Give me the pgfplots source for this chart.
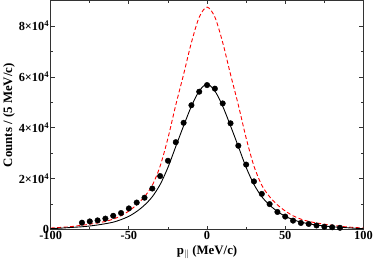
\documentclass[border=0pt]{standalone}
\usepackage{pgfplots}
\pgfplotsset{compat=1.18}
\usepackage{fontspec}
\setmainfont{Liberation Serif}
\begin{document}
\begin{tikzpicture}[x=1bp,y=1bp]
\begin{axis}[
  scale only axis,
  width=315bp, height=231bp,
  xmin=-100, xmax=100, ymin=0, ymax=90000,
  xtick={-100,-50,0,50,100},
  xticklabels={-100,-50,0,50,100},
  minor xtick={-75,-25,25,75},
  ytick={0,20000,40000,60000,80000},
  yticklabels={0,2×10\textsuperscript{4},4×10\textsuperscript{4},6×10\textsuperscript{4},8×10\textsuperscript{4}},
  minor ytick={10000,30000,50000,70000},
  scaled y ticks=false,
  tick align=inside,
  major tick length=4bp, minor tick length=2.5bp,
  tick style={line width=0.8pt, black!80},
  axis line style={line width=1pt, black!80},
  ticklabel style={font=\fontsize{12.5}{13}\selectfont\bfseries},
  xticklabel style={yshift=2bp},
  yticklabel style={xshift=2bp},
  xlabel={\textbf{p}$_{\|}$ \textbf{(MeV/c)}},
  ylabel={\textbf{Counts / (5 MeV/c)}},
  label style={font=\fontsize{13}{14}\selectfont\bfseries},
  xlabel style={yshift=1bp},
  ylabel style={yshift=-3bp},
  clip=true,
]
\addplot[red, dashed, line width=0.9pt, dash pattern=on 4bp off 2.5bp, smooth, tension=0.5] coordinates {
(-100,700)(-95,900)(-90,1100)(-85,1400)(-80,1800)(-75,2200)(-70,2700)(-65,3300)(-60,4200)(-55,5500)(-50,7400)(-45,9800)(-40,13000)(-35,17500)(-30,25000)(-25,36000)(-20,49000)(-15,61000)(-10,73500)(-5,83500)(0,87400)
(5,83500)(10,73500)(15,61000)(20,49000)(25,36000)(30,25000)(35,17500)(40,13000)(45,9800)(50,7400)(55,5500)(60,4200)(65,3300)(70,2700)(75,2200)(80,1800)(85,1400)(90,1100)(95,900)(100,700)
};
\addplot[black, line width=0.9pt, smooth, tension=0.5] coordinates {
(-100,500)(-95,600)(-90,800)(-85,1000)(-80,1200)(-75,1500)(-70,1900)(-65,2400)(-60,3000)(-55,4000)(-50,5300)(-45,7200)(-40,9700)(-35,13000)(-30,17800)(-25,24500)(-20,32700)(-15,40800)(-10,48500)(-5,54500)(0,57200)
(5,54500)(10,48500)(15,40800)(20,32700)(25,24500)(30,17800)(35,13000)(40,9700)(45,7200)(50,5300)(55,4000)(60,3000)(65,2400)(70,1900)(75,1500)(80,1200)(85,1000)(90,800)(95,600)(100,500)
};
\addplot[only marks, mark=*, mark size=2.8bp, black] coordinates {
(-80,2800)(-75,3300)(-70,3700)(-65,4400)(-60,5500)(-55,6600)(-50,8400)(-45,10700)(-40,12600)(-35,16200)(-30,21100)(-25,27100)(-20,34400)(-15,42000)(-10,48900)(-5,54200)(0,56800)(5,55400)(10,49600)(15,41800)(20,33000)(25,25600)(30,19000)(35,14100)(40,10100)(45,7000)(50,5200)(55,3600)(60,2700)(65,2300)(70,1700)(75,1200)(80,1000)(85,800)
};
\end{axis}
\end{tikzpicture}
\end{document}
